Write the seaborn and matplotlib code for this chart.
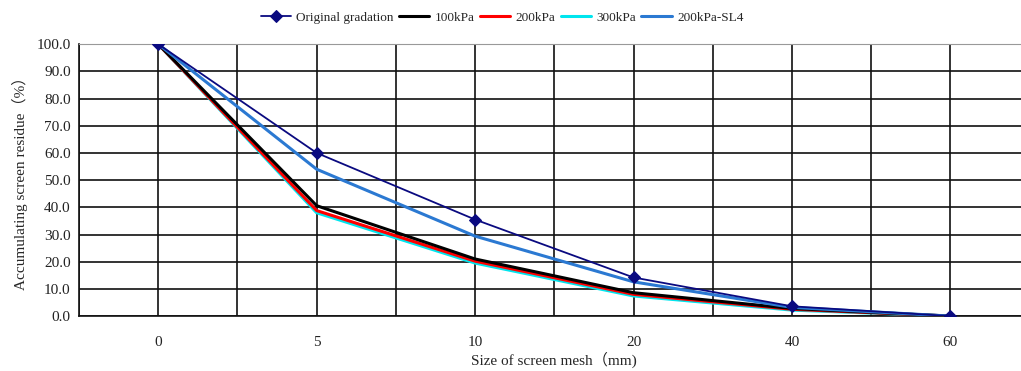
import matplotlib
matplotlib.use("Agg")
import matplotlib.pyplot as plt
import seaborn as sns
import pandas as pd
from matplotlib.ticker import FormatStrFormatter, MultipleLocator

sizes = ["0", "5", "10", "20", "40", "60"]
original = [100.0, 60.0, 35.5, 14.2, 3.6, 0.0]
kpa100 = [100.0, 40.6, 21.0, 8.6, 2.8, 0.0]
kpa200 = [100.0, 38.8, 20.2, 8.0, 2.5, 0.0]
kpa300 = [100.0, 38.0, 19.5, 7.4, 2.2, 0.0]
kpa200_sl4 = [100.0, 54.0, 29.4, 12.6, 3.2, 0.0]

df = pd.DataFrame({"size": sizes, "Original gradation": original, "100kPa": kpa100,
                   "200kPa": kpa200, "300kPa": kpa300, "200kPa-SL4": kpa200_sl4})

sns.set_style("white")
plt.rcParams["font.family"] = ["Liberation Serif", "Noto Sans CJK SC"]

fig = plt.figure(figsize=(10.21, 3.71), dpi=100)
ax = fig.add_axes([0.0774, 0.148, 0.931, 0.733])

sns.lineplot(data=df, x="size", y="300kPa", ax=ax, color="#00E5EE", lw=2.2, label="300kPa", zorder=3)
sns.lineplot(data=df, x="size", y="200kPa", ax=ax, color="#FF0000", lw=2.2, label="200kPa", zorder=4)
sns.lineplot(data=df, x="size", y="100kPa", ax=ax, color="#000000", lw=2.2, label="100kPa", zorder=5)
sns.lineplot(data=df, x="size", y="200kPa-SL4", ax=ax, color="#2B79D2", lw=2.2, label="200kPa-SL4", zorder=6)
sns.lineplot(data=df, x="size", y="Original gradation", ax=ax, color="#0A0A80", lw=1.3,
             marker="D", markersize=6, markeredgecolor="#0A0A80", label="Original gradation", zorder=7)

ax.set_xlim(-0.5, 5.5)
ax.set_ylim(0, 100)
ax.yaxis.set_major_locator(MultipleLocator(10))
ax.yaxis.set_major_formatter(FormatStrFormatter("%.1f"))
ax.xaxis.set_minor_locator(MultipleLocator(0.5))
ax.grid(True, which="major", axis="y", color="#111111", lw=1.2)
ax.grid(True, which="both", axis="x", color="#111111", lw=1.2)
ax.set_axisbelow(True)
ax.tick_params(which="both", length=0, labelsize=11, colors="#222222")
ax.tick_params(axis="x", pad=14)
ax.tick_params(axis="y", pad=6)

for s in ["left", "bottom"]:
    ax.spines[s].set_color("#111111")
    ax.spines[s].set_linewidth(1.2)
ax.spines["top"].set_color("#999999")
ax.spines["right"].set_visible(False)

ax.set_xlabel("Size of screen mesh（mm)", fontsize=11, labelpad=2)
ax.set_ylabel("Accumulating screen residue（%）", fontsize=11, labelpad=6)

handles, labels = ax.get_legend_handles_labels()
order = ["Original gradation", "100kPa", "200kPa", "300kPa", "200kPa-SL4"]
hmap = dict(zip(labels, handles))
ax.legend([hmap[k] for k in order], order, loc="lower center", bbox_to_anchor=(0.445, 1.03),
          ncol=5, frameon=False, fontsize=9.5, handlelength=2.3, columnspacing=0.4, handletextpad=0.4)

fig.savefig("out.png", dpi=100)
